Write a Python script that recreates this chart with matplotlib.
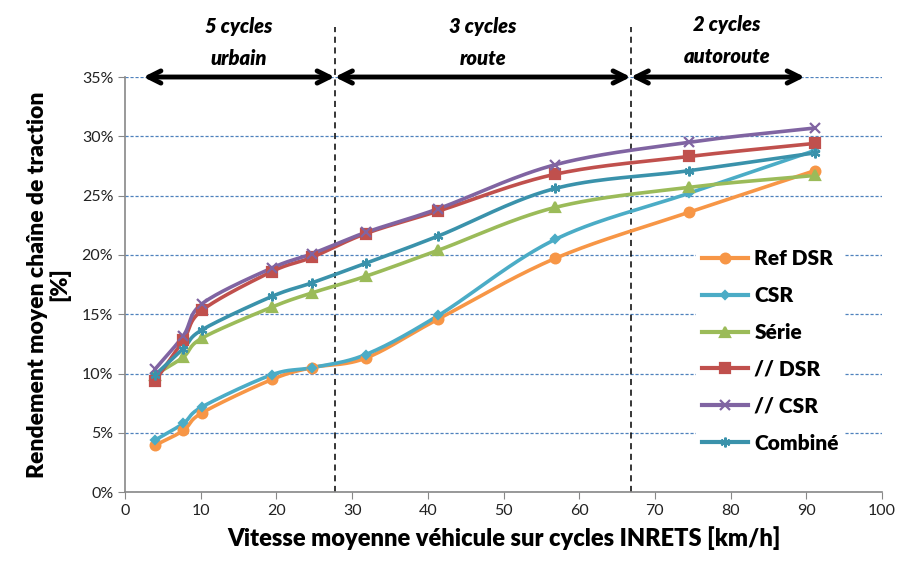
import numpy as np
import matplotlib
matplotlib.use("Agg")
import matplotlib.pyplot as plt
from matplotlib.ticker import FuncFormatter, MultipleLocator

plt.rcParams['font.family'] = ['Lato', 'DejaVu Sans']

# Average speed of each INRETS cycle (5 urban, 3 road, 2 motorway)
speeds = [4.0, 7.7, 10.2, 19.4, 24.7, 31.8, 41.4, 56.8, 74.5, 91.1]

ref_dsr = [3.96, 5.2, 6.7, 9.5, 10.5, 11.3, 14.6, 19.7, 23.6, 27.1]
csr = [4.4, 5.8, 7.2, 9.9, 10.5, 11.6, 14.9, 21.3, 25.2, 28.8]
serie = [9.9, 11.4, 13.0, 15.6, 16.8, 18.2, 20.4, 24.0, 25.7, 26.7]
par_dsr = [9.4, 12.8, 15.35, 18.6, 19.8, 21.8, 23.7, 26.8, 28.3, 29.4]
par_csr = [10.4, 13.2, 15.9, 18.9, 20.1, 21.9, 23.9, 27.6, 29.5, 30.7]
combine = [9.9, 12.1, 13.7, 16.5, 17.65, 19.3, 21.6, 25.6, 27.1, 28.6]

series_names = ["Ref DSR", "CSR", "Série", "// DSR", "// CSR", "Combiné"]
series_values = [ref_dsr, csr, serie, par_dsr, par_csr, combine]
colors = ["#F79646", "#4BACC6", "#9BBB59", "#C0504D", "#8064A2", "#3A92AB"]
markers = ["o", "D", "^", "s", "x", (6, 2, 0)]
msizes = [7, 4, 7, 7, 7, 7]

# Cycle-family boundaries and their labels
bounds = [2.4, 27.7, 66.8, 89.8]
zone_labels = [("5 cycles", "urbain"), ("3 cycles", "route"), ("2 cycles", "autoroute")]


def smooth(x, y, n=30):
    """Catmull-Rom smoothing between consecutive points."""
    x = np.asarray(x, float)
    y = np.asarray(y, float)
    px = np.concatenate([[2 * x[0] - x[1]], x, [2 * x[-1] - x[-2]]])
    py = np.concatenate([[2 * y[0] - y[1]], y, [2 * y[-1] - y[-2]]])
    xs, ys = [], []
    t = np.linspace(0, 1, n, endpoint=False)
    for i in range(1, len(px) - 2):
        for arr, out in ((px, xs), (py, ys)):
            p0, p1, p2, p3 = arr[i - 1], arr[i], arr[i + 1], arr[i + 2]
            out.extend(0.5 * ((2 * p1) + (-p0 + p2) * t
                              + (2 * p0 - 5 * p1 + 4 * p2 - p3) * t ** 2
                              + (-p0 + 3 * p1 - 3 * p2 + p3) * t ** 3))
    xs.append(x[-1])
    ys.append(y[-1])
    return np.array(xs), np.array(ys)


fig = plt.figure(figsize=(9, 5.65), dpi=100)
ax = fig.add_axes([0.139, 0.129, 0.841, 0.7347])

for name, vals, c, m, ms in zip(series_names, series_values, colors, markers, msizes):
    v = np.array(vals) / 100.0
    sx, sy = smooth(speeds, v)
    ax.plot(sx, sy, color=c, lw=2.6, solid_capstyle='round', zorder=3)
    ax.plot(speeds, v, ls='none', marker=m, ms=ms, color=c, mec=c, mew=1.6, zorder=4)
    ax.plot([], [], color=c, lw=3, marker=m, ms=ms, mec=c, mew=1.6, label=name)

ax.set_xlim(0, 100)
ax.set_ylim(0, 0.35)
ax.xaxis.set_major_locator(MultipleLocator(10))
ax.yaxis.set_major_locator(MultipleLocator(0.05))
ax.yaxis.set_major_formatter(FuncFormatter(lambda v, p: f"{v*100:.0f}%"))
ax.grid(axis='y', color='#4F81BD', ls=(0, (2.5, 1.5)), lw=0.9)
ax.set_axisbelow(True)
for s in ('top', 'right'):
    ax.spines[s].set_visible(False)
for s in ('left', 'bottom'):
    ax.spines[s].set_color('#888888')
    ax.spines[s].set_linewidth(1.2)
ax.tick_params(axis='both', colors='#888888', labelcolor='#222222', labelsize=11.5, length=5)

# Vertical separators between cycle families
for b in bounds[1:3]:
    ax.plot([b, b], [0, 0.392], color='black', ls=(0, (4, 3)), lw=1.1,
            clip_on=False, zorder=2)

# Double-headed arrows spanning each family
for a, b in zip(bounds[:-1], bounds[1:]):
    ax.annotate('', xy=(b, 0.35), xytext=(a, 0.35),
                arrowprops=dict(arrowstyle='<->', lw=3.5, color='black',
                                mutation_scale=22, shrinkA=0, shrinkB=0),
                annotation_clip=False, zorder=5)

centers = [15.0, 47.3, 79.5]
for cx, (l1, l2), dy in zip(centers, zone_labels, [0.0, 0.0, 0.002]):
    ax.text(cx, 0.3925 + dy, l1, ha='center', va='center', fontsize=14.5,
            fontweight='heavy', fontstyle='italic')
    ax.text(cx, 0.3655 + dy, l2, ha='center', va='center', fontsize=14.5,
            fontweight='heavy', fontstyle='italic')

ax.set_xlabel("Vitesse moyenne véhicule sur cycles INRETS [km/h]",
              fontsize=17, fontweight='heavy', labelpad=6)
ax.set_ylabel("Rendement moyen chaîne de traction\n[%]",
              fontsize=16.5, fontweight='heavy', labelpad=8, linespacing=1.05)

leg = ax.legend(loc='lower right', bbox_to_anchor=(0.965, 0.055), frameon=True,
                prop={'weight': 'heavy', 'size': 15},
                handlelength=2.2, handletextpad=0.3, labelspacing=0.86,
                borderpad=0.3, numpoints=1)
leg.get_frame().set_edgecolor('none')
leg.get_frame().set_facecolor('white')
leg.get_frame().set_alpha(1)

fig.savefig("out.png", dpi=100)
